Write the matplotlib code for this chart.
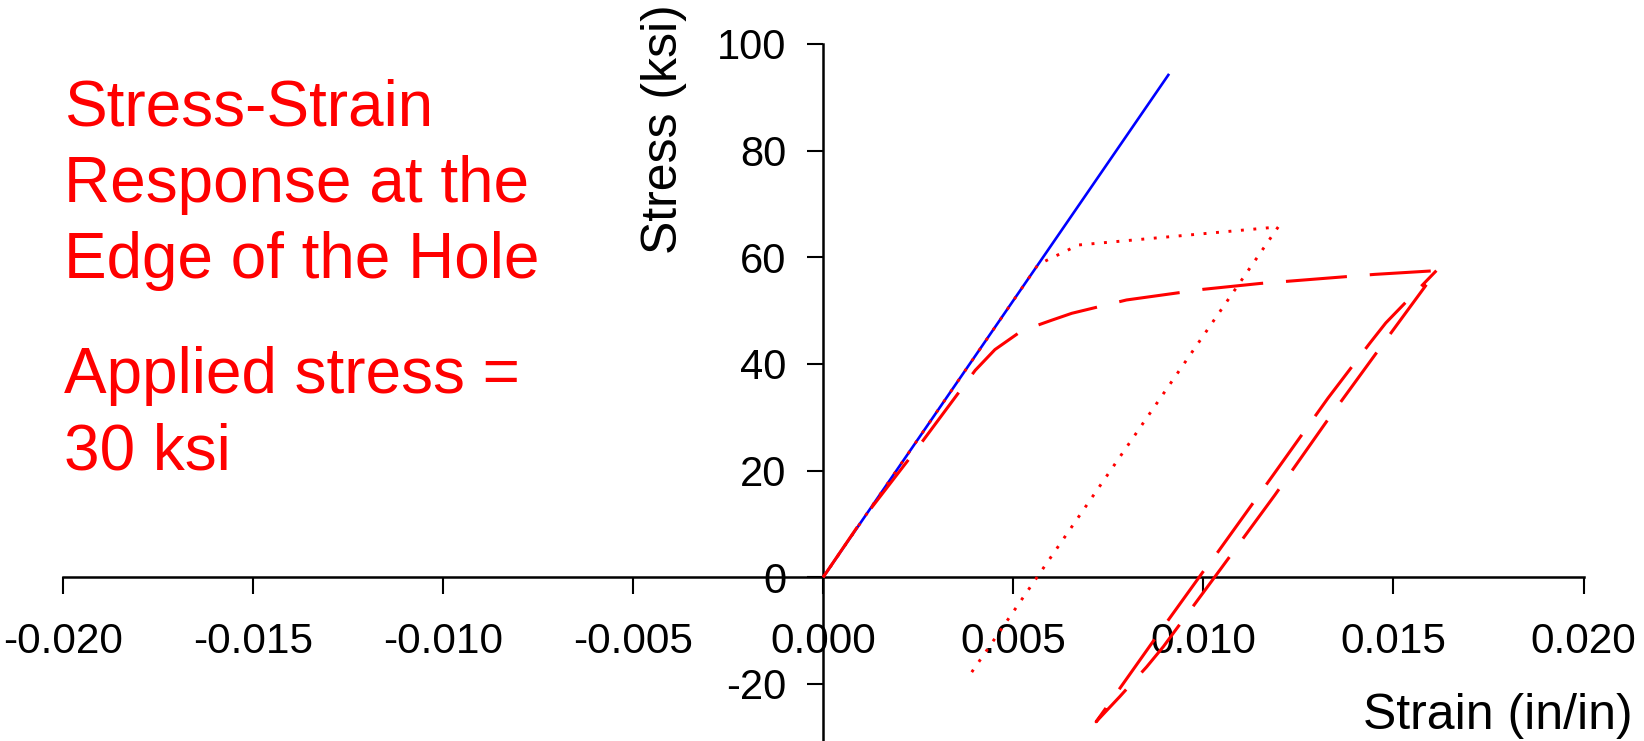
import matplotlib
matplotlib.use("Agg")
import matplotlib.pyplot as plt

plt.rcParams['font.family'] = ['Liberation Sans', 'DejaVu Sans']
plt.rcParams['axes.unicode_minus'] = False
plt.rcParams['lines.scale_dashes'] = False

# Linear-elastic response at the hole edge
elastic_strain = [0.0, 0.00910]
elastic_stress = [0.0, 94.4]

# Elastic-plastic response: load to peak, then unload
ep_strain = [0.0, 0.00565, 0.00604, 0.00637, 0.00670, 0.01197, 0.00385]
ep_stress = [0.0, 58.6, 60.0, 61.1, 62.3, 65.7, -18.4]

# Cyclic response: monotonic loading, unloading branch, reloading branch
cyc_strain = [0.0, 0.00102, 0.00251, 0.00400, 0.00452, 0.00522, 0.00601,
              0.00654, 0.00798, 0.01000, 0.01150, 0.01451, 0.01613,
              0.01583, 0.01477, 0.01333, 0.01188, 0.01044, 0.00895,
              0.00851, 0.00780, 0.00718,
              0.00753, 0.00895, 0.01000, 0.01039, 0.01184, 0.01328,
              0.01438, 0.01480, 0.01613]
cyc_stress = [0.0, 10.7, 24.5, 38.8, 42.7, 46.2, 48.2,
              49.5, 52.0, 54.0, 55.1, 56.8, 57.5,
              54.5, 44.2, 30.1, 15.4, 1.4, -13.0,
              -16.8, -22.4, -27.1,
              -23.6, -9.3, 1.1, 4.8, 19.2, 33.6,
              43.9, 47.7, 57.5]

x_ticks = [-0.020, -0.015, -0.010, -0.005, 0.000, 0.005, 0.010, 0.015, 0.020]
x_tick_labels = ['-0.020', '-0.015', '-0.010', '-0.005', '0.000',
                 '0.005', '0.010', '0.015', '0.020']
y_ticks = [-20, 0, 20, 40, 60, 80, 100]
y_tick_labels = ['-20', '0', '20', '40', '60', '80', '100']

title_lines = ['Stress-Strain', 'Response at the', 'Edge of the Hole']
note_lines = ['Applied stress =', '30 ksi']

W, H = 1644, 741
fig = plt.figure(figsize=(W / 100, H / 100), dpi=100)
fig.patch.set_facecolor('white')

ax_left, ax_right, ax_top = 62.7, 1583.5, 44.0
ax = fig.add_axes([ax_left / W, 0.0, (ax_right - ax_left) / W, 1 - ax_top / H])
ax.set_xlim(-0.020, 0.020)
ax.set_ylim(-30.7, 100)

for side in ('top', 'right'):
    ax.spines[side].set_visible(False)
ax.spines['left'].set_position(('data', 0))
ax.spines['bottom'].set_position(('data', 0))
for side in ('left', 'bottom'):
    ax.spines[side].set_linewidth(1.8)
    ax.spines[side].set_color('black')

ax.set_xticks(x_ticks)
ax.set_xticklabels(x_tick_labels)
ax.set_yticks(y_ticks)
ax.set_yticklabels(y_tick_labels)
ax.tick_params(axis='x', direction='out', length=12, width=1.5, pad=20,
               labelsize=30.5, colors='black')
ax.tick_params(axis='y', direction='out', length=11.5, width=1.5, pad=15,
               labelsize=30, colors='black')

ax.plot(elastic_strain, elastic_stress, color='#0000ff', lw=1.9,
        solid_capstyle='butt', zorder=3)
ax.plot(ep_strain, ep_stress, color='#ff0000', lw=2.1,
        linestyle=(0, (2.1, 6.9)), zorder=4)
ax.plot(cyc_strain, cyc_stress, color='#ff0000', lw=2.2,
        linestyle=(0, (44.0, 16.5)), zorder=4)

# Axis titles
fig.text(677 / W, 1 - 129.5 / H, 'Stress (ksi)', rotation=90,
         rotation_mode='anchor', ha='center', va='baseline', fontsize=36,
         color='black')
fig.text(1632.5 / W, 1 - 729 / H, 'Strain (in/in)', ha='right',
         va='baseline', fontsize=36, color='black')

# Annotation block on the left
line_step = 76.6
for i, line in enumerate(title_lines):
    fig.text(64 / W, 1 - (125 + i * line_step) / H, line, ha='left',
             va='baseline', fontsize=46, color='#ff0000')
for i, line in enumerate(note_lines):
    fig.text(64 / W, 1 - (393.3 + i * line_step) / H, line, ha='left',
             va='baseline', fontsize=46, color='#ff0000')

fig.savefig('out.png', dpi=100, facecolor='white')
